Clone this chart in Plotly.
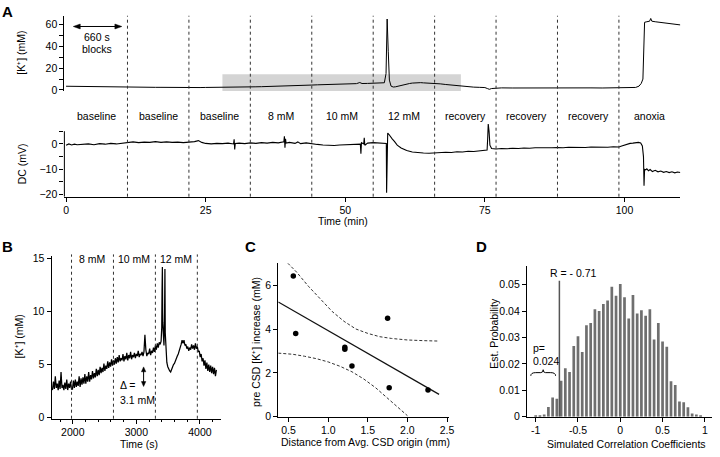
import plotly.graph_objects as go

W, H = 720, 457
FONT = "Liberation Sans, Arial, Helvetica, sans-serif"
FS = 10.5


def fx(p):
    return p / W


def fy(p):
    return 1 - p / H


# ---------------- Panel A data ----------------
a_k_samples = [
    (0, 3.4), (1, 3.3), (2, 3.4), (3, 3.2), (4, 3.3), (5, 3.1), (6, 3.2), (7, 3.0), (8, 3.1), (9, 2.9),
    (10, 2.8), (11, 2.7), (12, 2.6), (13, 2.6), (14, 2.5), (15, 2.5), (16, 2.4), (17, 2.4), (18, 2.3),
    (19, 2.3), (20, 2.2), (21, 2.2), (22, 2.1), (23, 2.2), (24, 2.2), (25, 2.3), (26, 2.3), (27, 2.4),
    (28, 2.5), (29, 2.5), (30, 2.6), (31, 2.7), (32, 2.7), (33, 2.8), (34, 2.9), (35, 3.0), (36, 3.1),
    (37, 3.2), (38, 3.4), (39, 3.5), (40, 3.7), (41, 3.9), (42, 4.1), (43, 4.3), (44, 4.5), (45, 4.7),
    (46, 4.9), (47, 5.1), (48, 5.2), (49, 5.4), (50, 5.5), (51, 5.7), (52, 5.8), (52.6, 6.8), (53, 5.9),
    (54, 6.0), (55, 6.1), (56, 6.3), (57, 6.6), (57.3, 15), (57.5, 65), (57.7, 35), (57.9, 9),
    (58.2, 3.5), (58.6, 2.7), (59, 2.9), (59.5, 3.6), (60, 4.3), (60.5, 5.0), (61, 5.5), (61.5, 5.9),
    (62, 6.3), (62.5, 6.6), (63, 6.8), (63.5, 6.7), (64, 6.5), (65, 6.3), (66, 6.0), (67, 5.6), (68, 5.0),
    (69, 4.4), (70, 3.8), (71, 3.3), (72, 2.9), (73, 2.6), (74, 2.4), (75, 2.2), (75.5, 1.2), (75.8, 0.6),
    (76.2, 1.3), (77, 1.8), (78, 1.9), (80, 1.8), (82, 1.9), (84, 1.8), (86, 1.8), (88, 1.9), (90, 1.8),
    (92, 1.8), (94, 1.9), (96, 1.8), (98, 1.9), (100, 1.9), (101, 2.0), (102, 2.3), (102.6, 3.5),
    (103, 6), (103.3, 10), (103.5, 35), (103.6, 62), (104, 62.5), (104.5, 63), (104.7, 65.5),
    (104.9, 63), (105.5, 62.5), (106.5, 62), (107.5, 61.3), (108.5, 60.6), (109.5, 60), (110, 59.6),
]
a_time = [t for t, _ in a_k_samples]
a_k = [v for _, v in a_k_samples]

dc_samples = [
    (0, -0.5), (0.5, 0.0), (1, -0.4), (1.5, -0.1), (2, -0.3), (3, -0.2), (4, 0.0), (5, -0.3), (6, 0.1),
    (7, -0.1), (8, 0.2), (9, 0.0), (10, 0.3), (11, 0.5), (12, 0.8), (13, 0.5), (14, 0.7), (15, 0.6),
    (16, 0.9), (17, 0.6), (18, 0.8), (19, 0.6), (20, 0.7), (21, 0.5), (22, 0.6), (23, 0.9), (23.7, 1.3),
    (24.3, 0.6), (25, 0.2), (26, 0.0), (27, 0.2), (28, 0.1), (29, 0.3), (30, 0.0), (30.1, 1.8),
    (30.2, -2.2), (30.3, 0.2), (31, 0.3), (32, 0.1), (33, 0.4), (34, 0.2), (35, 0.5), (36, 0.3),
    (37, 0.6), (38, 0.4), (39, 0.8), (39.1, 3.0), (39.2, -1.5), (39.3, 2.0), (39.4, 0.3), (40, 0.6),
    (41, 0.2), (41.5, 0.8), (42, 0.1), (43, 0.4), (44, 0.0), (45, -0.2), (46, -0.4), (47, -0.5),
    (48, -0.6), (49, -0.4), (50, -0.3), (51, -0.1), (52, -0.2), (52.7, -0.1), (52.8, -3.9), (52.9, 0.5),
    (53.3, 0.0), (53.4, 2.4), (53.5, -0.5), (54, 0.3), (55, 0.5), (56, 0.4), (57, 0.3), (57.35, 0.2),
    (57.4, -19.2), (57.5, -6), (57.6, 4.3), (57.8, 3.8), (58, 3.0), (58.4, 2.0), (58.8, 1.0),
    (59.3, -0.5), (60, -1.6), (61, -2.6), (62, -3.2), (63, -3.5), (64, -3.6), (65, -3.7), (66, -3.5),
    (67, -3.6), (68, -3.3), (69, -3.4), (70, -3.1), (71, -3.2), (72, -2.9), (73, -3.0), (74, -2.7),
    (75, -2.6), (75.4, -2.4), (75.5, 2), (75.6, 7.8), (75.75, 5), (75.9, -0.5), (76.2, -1.8),
    (77, -2.0), (78, -1.8), (79, -1.9), (80, -1.7), (81, -1.8), (82, -1.6), (83, -1.7), (84, -1.5),
    (85, -1.6), (86, -1.4), (87, -1.5), (88, -1.4), (89, -1.5), (90, -1.3), (91, -1.4), (92, -1.3),
    (93, -1.4), (94, -1.2), (95, -1.3), (96, -1.2), (97, -1.3), (98, -1.1), (99, -1.2), (99.5, -0.8),
    (100, -0.4), (100.5, -0.1), (101, 0.2), (101.5, 0.3), (102, 0.5), (102.5, 0.6), (102.9, 0.4),
    (103.2, -0.8), (103.4, -5), (103.5, -16.5), (103.6, -10), (103.8, -10.2), (104, -9.8),
    (104.3, -10.6), (104.6, -10.1), (105, -10.9), (105.5, -10.4), (106, -11.0), (106.5, -10.7),
    (107, -11.2), (107.5, -10.9), (108, -11.3), (108.5, -11.0), (109, -11.4), (109.5, -11.1), (110, -11.3),
]
dc_time = [t for t, _ in dc_samples]
dc_mv = [v for _, v in dc_samples]

block_edges_min = [11, 22, 33, 44, 55, 66, 77, 88, 99]
block_centers_min = [5.5, 16.5, 27.5, 38.5, 49.5, 60.5, 71.5, 82.5, 93.5, 104.5]
block_labels = ["baseline", "baseline", "baseline", "8 mM", "10 mM", "12 mM",
                "recovery", "recovery", "recovery", "anoxia"]
window_min = [28.0, 70.7]

# ---------------- Panel B data ----------------
b_time = (list(range(1680, 1981, 15)) + list(range(1995, 2641, 15)) + list(range(2655, 3376, 15))
          + [3390, 3400, 3405, 3410, 3415, 3425, 3435, 3445, 3450, 3455, 3465, 3480]
          + list(range(3495, 4261, 15)))
b_k = ([2.6, 3.4, 2.7, 3.9, 2.8, 3.2, 2.6, 3.5, 2.7, 4.3, 2.8, 3.1, 2.6, 3.3, 2.7, 3.6, 2.6, 3.2, 2.8, 3.4, 2.7]
       + [2.7, 3.5, 2.8, 3.6, 2.9, 3.4, 3.0, 3.9, 2.9, 3.7, 3.1, 3.8, 3.2, 4.1, 3.2, 3.9, 3.4, 4.3, 3.4, 4.0,
          3.6, 4.4, 3.7, 4.2, 3.8, 4.6, 3.9, 4.5, 4.0, 4.8, 4.2, 4.7, 4.3, 5.1, 4.4, 4.9, 4.6, 5.3, 4.7, 5.2,
          4.8, 5.5, 4.9, 5.4]
       + [5.0, 5.6, 5.1, 5.7, 5.2, 5.9, 5.3, 5.6, 5.4, 6.0, 5.3, 5.8, 5.5, 6.1, 5.4, 5.9, 5.6, 6.2, 5.5, 5.9,
          5.7, 6.1, 5.6, 6.0, 5.8, 6.3, 5.7, 6.0, 5.9, 6.2, 5.8, 6.2, 7.8, 6.4, 5.8, 6.1, 6.0, 6.5, 5.9, 6.3,
          6.1, 6.6, 6.2, 6.8, 6.4, 7.0, 6.6, 7.1, 6.9]
       + [7.2, 8.5, 12.0, 14.2, 9.0, 7.0, 6.8, 10.0, 14.0, 8.0, 6.0, 5.2]
       + [4.8, 4.5, 4.4, 4.3, 4.6, 4.7, 5.0, 5.1, 5.4, 5.5, 5.8, 6.0, 6.3, 6.4, 6.9, 7.3, 7.0, 7.3, 6.8, 6.9,
          6.5, 6.7, 6.3, 6.6, 6.4, 6.9, 6.5, 6.8, 6.4, 7.0, 6.5, 6.7, 6.2, 6.3, 5.7, 6.0, 5.3, 5.6, 4.9, 5.4,
          4.6, 5.2, 4.4, 5.0, 4.3, 4.9, 4.2, 4.8, 4.1, 4.7, 3.9, 4.5])
assert len(b_time) == len(b_k), (len(b_time), len(b_k))
b_edges = [1980, 2640, 3300, 3960]
b_label_centers = [2310, 2970, 3630]
b_labels = ["8 mM", "10 mM", "12 mM"]

# ---------------- Panel C data ----------------
c_dist = [0.56, 0.59, 1.21, 1.21, 1.30, 1.75, 1.77, 2.26]
c_k_increase = [6.42, 3.79, 3.17, 3.08, 2.31, 4.49, 1.32, 1.22]
c_fit_x = [0.37, 2.40]
c_fit_y = [5.23, 1.02]
c_upper_x = [0.49, 0.60, 0.75, 0.90, 1.05, 1.20, 1.35, 1.50, 1.65, 1.80, 2.00, 2.20, 2.40]
c_upper_y = [7.00, 6.60, 5.95, 5.35, 4.80, 4.35, 4.00, 3.80, 3.65, 3.57, 3.50, 3.47, 3.45]
c_lower_x = [0.37, 0.55, 0.70, 0.85, 1.00, 1.15, 1.30, 1.45, 1.60, 1.75, 1.90, 2.00]
c_lower_y = [2.90, 2.85, 2.76, 2.65, 2.50, 2.30, 2.05, 1.72, 1.32, 0.85, 0.35, 0.05]

# ---------------- Panel D data ----------------
d_bin_centers = [-1.0, -0.95, -0.9, -0.85, -0.8, -0.75, -0.7, -0.65, -0.6, -0.55,
                 -0.5, -0.45, -0.4, -0.35, -0.3, -0.25, -0.2, -0.15, -0.1, -0.05,
                 0.0, 0.05, 0.1, 0.15, 0.2, 0.25, 0.3, 0.35, 0.4, 0.45,
                 0.5, 0.55, 0.6, 0.65, 0.7, 0.75, 0.8, 0.85, 0.9, 0.95]
d_prob = [0.0004, 0.0006, 0.0009, 0.0037, 0.0073, 0.0068, 0.0136, 0.0184, 0.0169, 0.0268,
          0.0305, 0.0245, 0.0346, 0.0355, 0.0407, 0.0400, 0.0427, 0.0440, 0.0492, 0.0458,
          0.0502, 0.0452, 0.0372, 0.0461, 0.0391, 0.0403, 0.0382, 0.0407, 0.0292, 0.0355,
          0.0285, 0.0265, 0.0134, 0.0120, 0.0058, 0.0055, 0.0036, 0.0012, 0.0009, 0.0004]
r_observed = -0.72

# ---------------- Figure ----------------
fig = go.Figure()
fig.add_trace(go.Scatter(x=a_time, y=a_k, mode="lines", line=dict(color="black", width=1),
                         xaxis="x", yaxis="y"))
fig.add_trace(go.Scatter(x=dc_time, y=dc_mv, mode="lines", line=dict(color="black", width=1.1),
                         xaxis="x2", yaxis="y2"))
fig.add_trace(go.Scatter(x=b_time, y=b_k, mode="lines", line=dict(color="black", width=1.25),
                         xaxis="x3", yaxis="y3"))
fig.add_trace(go.Scatter(x=c_upper_x, y=c_upper_y, mode="lines",
                         line=dict(color="#333", width=1, dash="3px,2px"), xaxis="x4", yaxis="y4"))
fig.add_trace(go.Scatter(x=c_lower_x, y=c_lower_y, mode="lines",
                         line=dict(color="#333", width=1, dash="3px,2px"), xaxis="x4", yaxis="y4"))
fig.add_trace(go.Scatter(x=c_fit_x, y=c_fit_y, mode="lines", line=dict(color="#111", width=1.2),
                         xaxis="x4", yaxis="y4"))
fig.add_trace(go.Scatter(x=c_dist, y=c_k_increase, mode="markers",
                         marker=dict(color="black", size=5.5), xaxis="x4", yaxis="y4"))
fig.add_trace(go.Bar(x=d_bin_centers, y=d_prob, width=0.032,
                     marker=dict(color="#6f6f6f", line=dict(width=0)), xaxis="x5", yaxis="y5"))

tickfont = dict(family=FONT, size=FS, color="black")
common = dict(showgrid=False, zeroline=False, linecolor="black", linewidth=1, ticks="outside",
              ticklen=4, tickwidth=1, tickcolor="black", tickfont=tickfont)


def minor(vals, length=4):
    return dict(tickvals=vals, ticks="outside", ticklen=length, tickwidth=1, tickcolor="black", showgrid=False)


fig.update_layout(
    width=W, height=H, margin=dict(l=0, r=0, t=0, b=0),
    paper_bgcolor="white", plot_bgcolor="rgba(0,0,0,0)", showlegend=False,
    font=dict(family=FONT, size=FS, color="black"),
    xaxis=dict(domain=[fx(64), fx(686)], range=[-0.3, 110], anchor="y", visible=False),
    yaxis=dict(domain=[fy(89), fy(12)], range=[-1, 68], anchor="x", showline=True,
               tickvals=[0, 20, 40, 60], minor=minor([10, 30, 50]), **common),
    xaxis2=dict(domain=[fx(64), fx(686)], range=[-0.3, 110], anchor="y2", showline=True,
                tickvals=[0, 25, 50, 75, 100], **common),
    yaxis2=dict(domain=[fy(197), fy(121)], range=[-20.8, 8.5], anchor="x2", showline=False,
                tickvals=[-20, -10, 0], minor=minor([-15, -5, 5]), **common),
    xaxis3=dict(domain=[fx(51), fx(222)], range=[1665, 4330], anchor="y3", showline=True,
                tickvals=[2000, 3000, 4000],
                minor=minor([1800, 2200, 2400, 2600, 2800, 3200, 3400, 3600, 3800, 4200], 2), **common),
    yaxis3=dict(domain=[fy(424), fy(258)], range=[-0.1, 15.2], anchor="x3", showline=True,
                tickvals=[0, 5, 10, 15], **common),
    xaxis4=dict(domain=[fx(280), fx(452)], range=[0.37, 2.52], anchor="y4", showline=True,
                tickvals=[0.5, 1.0, 1.5, 2.0, 2.5], ticktext=["0.5", "1.0", "1.5", "2.0", "2.5"], **common),
    yaxis4=dict(domain=[fy(422), fy(265)], range=[0, 7], anchor="x4", showline=True,
                tickvals=[0, 2, 4, 6], **common),
    xaxis5=dict(domain=[fx(531), fx(718)], range=[-1.105, 1.085], anchor="y5", showline=True,
                tickvals=[-1, -0.5, 0, 0.5, 1], ticktext=["-1", "-0.5", "0", "0.5", "1"], **common),
    yaxis5=dict(domain=[fy(422), fy(268)], range=[0, 0.057], anchor="x5", showline=True,
                tickvals=[0, 0.01, 0.02, 0.03, 0.04, 0.05],
                ticktext=["0", "0.01", "0.02", "0.03", "0.04", "0.05"], **common),
)

shapes = []
shapes.append(dict(type="rect", xref="x", yref="y", x0=window_min[0], x1=window_min[1], y0=-1, y1=14.3,
                   fillcolor="#d4d4d4", line=dict(width=0), layer="below"))
for e in block_edges_min:
    shapes.append(dict(type="line", xref="x2", yref="paper", x0=e, x1=e, y0=fy(197), y1=fy(12),
                       line=dict(color="#333", width=1, dash="3px,3px")))
shapes.append(dict(type="line", xref="paper", yref="y2", x0=fx(64), x1=fx(64), y0=-20.8, y1=5,
                   line=dict(color="black", width=1)))
for e in b_edges:
    shapes.append(dict(type="line", xref="x3", yref="paper", x0=e, x1=e, y0=fy(424), y1=fy(256),
                       line=dict(color="#333", width=1, dash="3px,3px")))
shapes.append(dict(type="line", xref="x5", yref="y5", x0=r_observed, x1=r_observed, y0=0, y1=0.0515,
                   line=dict(color="#555", width=1.5)))
shapes.append(dict(type="path", xref="x5", yref="y5",
                   path=("M -1.058,0.0155 Q -1.058,0.0167 -1.0,0.0167 L -0.94,0.0167 "
                         "Q -0.912,0.0167 -0.912,0.0178 Q -0.912,0.0167 -0.884,0.0167 "
                         "L -0.823,0.0167 Q -0.765,0.0167 -0.765,0.0155"),
                   line=dict(color="black", width=1)))


def ppath(points):
    return "M " + " L ".join("%.5f,%.5f" % (fx(a), fy(b)) for a, b in points) + " Z"


# "660 s blocks" double arrow
shapes.append(dict(type="line", xref="paper", yref="paper", x0=fx(75), x1=fx(120), y0=fy(23), y1=fy(23),
                   line=dict(color="black", width=1)))
shapes.append(dict(type="path", xref="paper", yref="paper", path=ppath([(73, 23), (80, 20.5), (80, 25.5)]),
                   fillcolor="black", line=dict(color="black", width=0.5)))
shapes.append(dict(type="path", xref="paper", yref="paper", path=ppath([(122, 23), (115, 20.5), (115, 25.5)]),
                   fillcolor="black", line=dict(color="black", width=0.5)))
# B double arrow
shapes.append(dict(type="line", xref="paper", yref="paper", x0=fx(144), x1=fx(144), y0=fy(373), y1=fy(389),
                   line=dict(color="black", width=1)))
shapes.append(dict(type="path", xref="paper", yref="paper", path=ppath([(144, 371), (141.8, 376), (146.2, 376)]),
                   fillcolor="black", line=dict(color="black", width=0.5)))
shapes.append(dict(type="path", xref="paper", yref="paper", path=ppath([(144, 391), (141.8, 386), (146.2, 386)]),
                   fillcolor="black", line=dict(color="black", width=0.5)))
fig.update_layout(shapes=shapes)

anns = []


def ann(text, x, y, size=FS, xanchor="center", yanchor="middle", angle=0, bold=False):
    anns.append(dict(text=("<b>%s</b>" % text) if bold else text, x=fx(x), y=fy(y),
                     xref="paper", yref="paper", xanchor=xanchor, yanchor=yanchor, showarrow=False,
                     textangle=angle, font=dict(family=FONT, size=size, color="black")))


ann("A", 7, 8, size=15, bold=True)
ann("B", 7, 248, size=15, bold=True)
ann("C", 252, 248, size=15, bold=True)
ann("D", 485, 248, size=15, bold=True)

ann("[K⁺] (mM)", 20, 50, angle=-90)
ann("DC (mV)", 22, 163, angle=-90)
ann("Time (min)", 345, 222)
ann("660 s", 97, 34)
ann("blocks", 97, 46)
for c, lab in zip(block_centers_min, block_labels):
    anns.append(dict(text=lab, x=c, y=fy(114), xref="x2", yref="paper", showarrow=False,
                     xanchor="center", yanchor="middle", font=dict(family=FONT, size=FS, color="black")))

ann("[K⁺] (mM)", 18, 340, angle=-90)
ann("Time (s)", 139, 450)
for c, lab in zip(b_label_centers, b_labels):
    anns.append(dict(text=lab, x=c, y=fy(261), xref="x3", yref="paper", showarrow=False,
                     xanchor="center", yanchor="middle", font=dict(family=FONT, size=FS, color="black")))
ann("Δ =", 118, 390, xanchor="left")
ann("3.1 mM", 118, 405, xanchor="left")

ann("pre CSD [K⁺] increase (mM)", 258, 345, angle=-90)
ann("Distance from Avg. CSD origin (mm)", 368, 448)

ann("Est. Probability", 497, 337, angle=-90)
ann("Simulated Correlation Coefficients", 632, 450)
ann("R = - 0.71", 552, 275, xanchor="left")
ann("p=", 535, 352, xanchor="left")
ann("0.024", 535, 365, xanchor="left")

fig.update_layout(annotations=anns)
fig.write_html("out.html", config={"displayModeBar": False},
               post_script="document.body.style.margin='0';")
